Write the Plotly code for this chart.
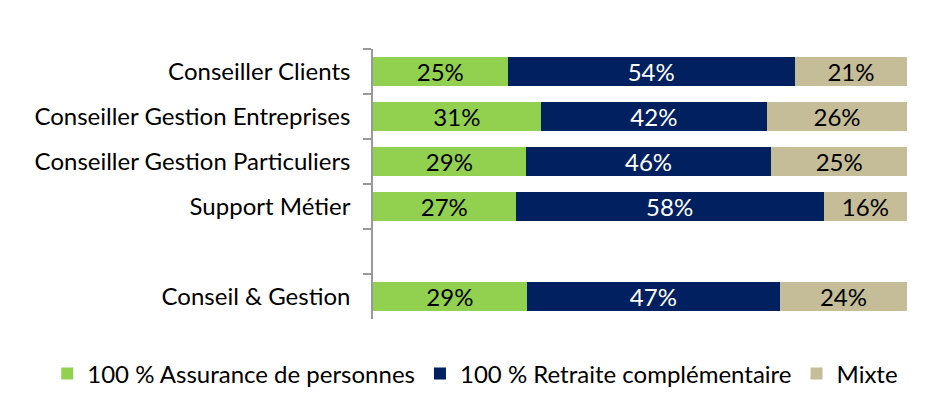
import plotly.graph_objects as go

categories = ["Conseiller Clients", "Conseiller Gestion Entreprises",
              "Conseiller Gestion Particuliers", "Support Métier", " ",
              "Conseil & Gestion"]
bar_categories = ["Conseiller Clients", "Conseiller Gestion Entreprises",
                  "Conseiller Gestion Particuliers", "Support Métier",
                  "Conseil & Gestion"]
assurance = [25.2, 31.4, 28.6, 26.7, 28.8]
retraite = [53.8, 42.4, 46.0, 57.7, 47.4]
mixte = [21.0, 26.2, 25.4, 15.6, 23.8]

series = [
    ("100 % Assurance de personnes", assurance, "#92D050", "#000000"),
    ("100 % Retraite complémentaire", retraite, "#002060", "#FFFFFF"),
    ("Mixte", mixte, "#C4BD97", "#000000"),
]

FONT = "Lato"
FS = 24
fig = go.Figure()
for name, vals, col, tcol in series:
    fig.add_trace(go.Bar(
        y=bar_categories, x=vals, name=name, orientation="h",
        marker=dict(color=col, line=dict(width=0)),
        text=vals, texttemplate="%{x:.0f}%", textposition="inside",
        insidetextanchor="middle", constraintext="none",
        textfont=dict(family=FONT, size=FS, color=tcol),
        width=0.65,
    ))

fig.update_layout(
    barmode="stack",
    width=935, height=396,
    margin=dict(l=365, r=36, t=41, b=85, autoexpand=False),
    plot_bgcolor="white", paper_bgcolor="white",
    font=dict(family=FONT, size=FS, color="#000000"),
    showlegend=True,
    legend=dict(orientation="h", xref="paper", x=-0.61, xanchor="left",
                yref="paper", y=-0.12, yanchor="top",
                font=dict(family=FONT, size=FS), itemwidth=30,
                traceorder="normal"),
    uniformtext=dict(mode=False),
)
fig.update_xaxes(range=[0, 100], visible=False, showgrid=False, zeroline=False)
fig.update_yaxes(type="category", categoryorder="array", categoryarray=categories,
                 range=[5.5, -0.5], showline=True, linecolor="#999999", linewidth=1.5,
                 ticks="outside", tickson="boundaries", ticklen=8, tickcolor="#999999",
                 tickwidth=1.5, showgrid=False, ticklabelstandoff=16,
                 tickfont=dict(family=FONT, size=FS))

fig.write_html("out.html")
